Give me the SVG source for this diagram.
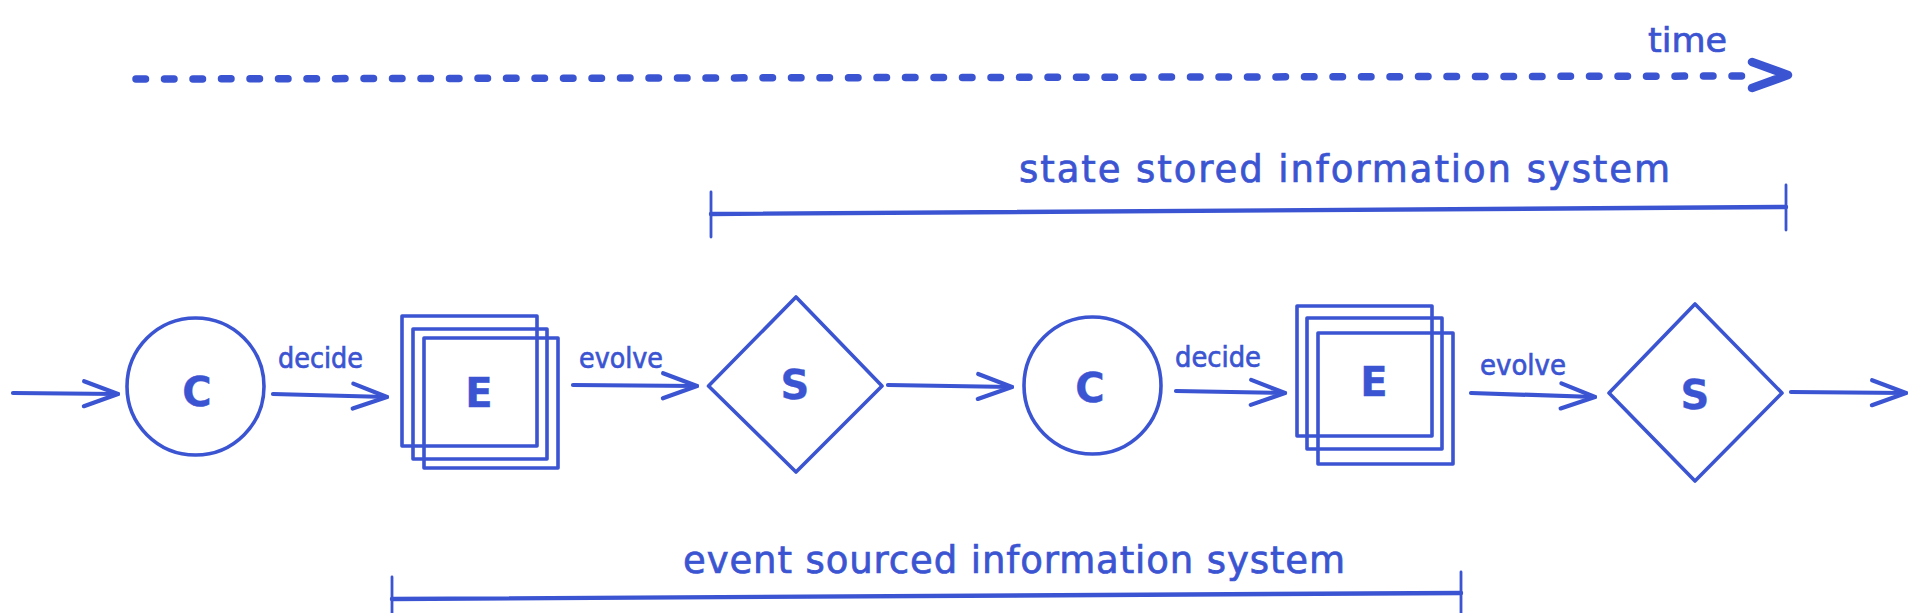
<svg xmlns="http://www.w3.org/2000/svg" width="1920" height="613" viewBox="0 0 1920 613">
  <style>
    .ink { fill: none; stroke: #3b54d2; stroke-linecap: round; stroke-linejoin: round; }
    .shape { stroke-width: 3.6; }
    .conn { stroke-width: 4.2; }
    .bar { stroke-width: 4.4; }
    .tick { stroke-width: 2.8; }
    .lbl { fill: #3b54d2; stroke: #3b54d2; stroke-width: 0.7; font-family: "DejaVu Sans", "Noto Sans", sans-serif; }
    .big { font-size: 40px; font-weight: bold; text-anchor: middle; stroke-width: 0.4; }
    .edge { font-size: 28px; }
    .title { font-size: 37px; }
  </style>
  <defs>
    <marker id="open" viewBox="-40 -16 46 32" refX="0" refY="0" markerWidth="46" markerHeight="32" markerUnits="userSpaceOnUse" orient="auto">
      <path d="M -34 -12.5 L 0 0 L -34 12.5" fill="none" stroke="#3b54d2" stroke-width="4.2" stroke-linecap="round" stroke-linejoin="round"/>
    </marker>
  </defs>
  <rect width="1920" height="613" fill="#ffffff"/>

  <g id="time-axis">
    <path class="ink" d="M 136 79 L 1750 76" stroke-width="7.5" stroke-dasharray="9.5 19" />
    <path class="ink" d="M 1752 62 L 1788 75 L 1752 88" stroke-width="8.5"/>
    <text class="lbl" x="1648" y="52" font-size="34" textLength="79" lengthAdjust="spacingAndGlyphs">time</text>
  </g>

  <g id="state-stored-span">
    <path class="ink tick" d="M 711 192 L 711 237"/>
    <path class="ink bar" d="M 711 214 L 1786 207"/>
    <path class="ink tick" d="M 1786 185 L 1786 230"/>
    <text class="lbl title" x="1019" y="182" textLength="651" lengthAdjust="spacing">state stored information system</text>
  </g>

  <g id="event-sourced-span">
    <path class="ink tick" d="M 392 577 L 392 613"/>
    <path class="ink bar" d="M 392 599 L 1461 593"/>
    <path class="ink tick" d="M 1461 572 L 1461 613"/>
    <text class="lbl title" x="683" y="573" textLength="662" lengthAdjust="spacing">event sourced information system</text>
  </g>

  <g id="connectors">
    <path class="ink conn" d="M 13 393 L 118 394" marker-end="url(#open)"/>
    <path class="ink conn" d="M 273 394 L 387 397" marker-end="url(#open)"/>
    <path class="ink conn" d="M 573 385 L 697 386" marker-end="url(#open)"/>
    <path class="ink conn" d="M 888 385 L 1012 387" marker-end="url(#open)"/>
    <path class="ink conn" d="M 1176 391 L 1285 393" marker-end="url(#open)"/>
    <path class="ink conn" d="M 1471 393 L 1595 397" marker-end="url(#open)"/>
    <path class="ink conn" d="M 1791 392 L 1906 393" marker-end="url(#open)"/>
    <text class="lbl edge" x="278" y="368" textLength="85" lengthAdjust="spacingAndGlyphs">decide</text>
    <text class="lbl edge" x="579" y="368" textLength="84" lengthAdjust="spacingAndGlyphs">evolve</text>
    <text class="lbl edge" x="1175" y="367" textLength="86" lengthAdjust="spacingAndGlyphs">decide</text>
    <text class="lbl edge" x="1480" y="375" textLength="86" lengthAdjust="spacingAndGlyphs">evolve</text>
  </g>

  <g id="command-1">
    <ellipse class="ink shape" cx="195.5" cy="386.5" rx="68.5" ry="68.5"/>
    <text class="lbl big" x="197" y="405.5">C</text>
  </g>

  <g id="events-1">
    <rect class="ink shape" x="402" y="316" width="135" height="130"/>
    <rect class="ink shape" x="413" y="329" width="134" height="130"/>
    <rect class="ink shape" x="424" y="338" width="134" height="130"/>
    <text class="lbl big" x="479" y="406.5">E</text>
  </g>

  <g id="state-1">
    <path class="ink shape" d="M 708.5 386 L 796 297 L 882 386 L 796 472 Z"/>
    <text class="lbl big" x="795" y="398.5">S</text>
  </g>

  <g id="command-2">
    <ellipse class="ink shape" cx="1092.5" cy="385.5" rx="68.5" ry="68.5"/>
    <text class="lbl big" x="1090" y="401.5">C</text>
  </g>

  <g id="events-2">
    <rect class="ink shape" x="1297" y="306" width="135" height="130"/>
    <rect class="ink shape" x="1307" y="318" width="135" height="131"/>
    <rect class="ink shape" x="1318" y="333" width="135" height="131"/>
    <text class="lbl big" x="1374" y="396">E</text>
  </g>

  <g id="state-2">
    <path class="ink shape" d="M 1609 393 L 1695 304 L 1782 393 L 1695 481 Z"/>
    <text class="lbl big" x="1695" y="408.5">S</text>
  </g>
</svg>
